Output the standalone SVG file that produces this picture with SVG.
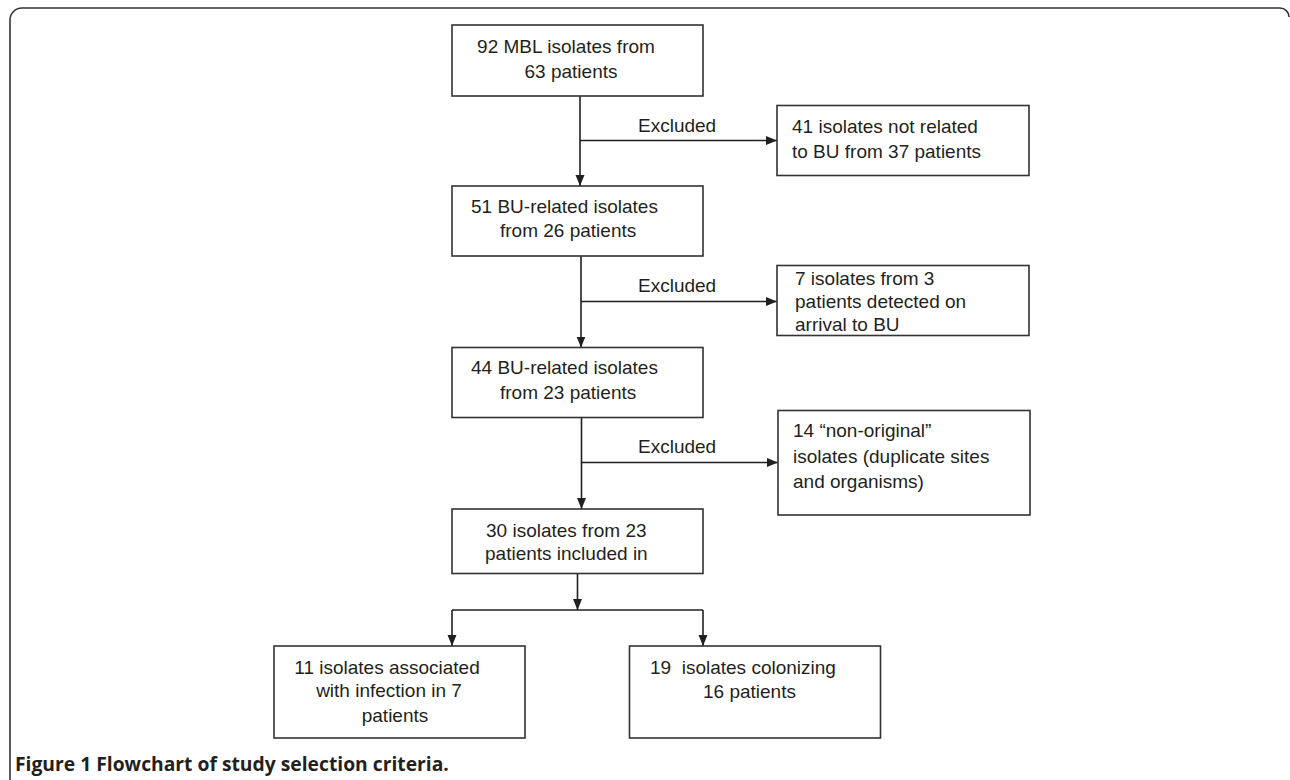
<svg xmlns="http://www.w3.org/2000/svg" width="1290" height="780" viewBox="0 0 1290 780">
<defs>
<marker id="ah" markerUnits="userSpaceOnUse" markerWidth="12" markerHeight="10" refX="11" refY="4.5" orient="auto">
<path d="M0,0 L11,4.5 L0,9 z" fill="#231f20"/>
</marker>
<style>
.box{fill:#fff;stroke:#333;stroke-width:1.6}
.t{font-family:"Liberation Sans",Arial,Helvetica,sans-serif;font-size:19px;fill:#231f20}
.c{text-anchor:middle}
.ln{fill:none;stroke:#231f20;stroke-width:1.6}
.cap{font-family:"Open Sans","Liberation Sans",sans-serif;font-size:19.3px;font-weight:700;fill:#231f20}
</style>
</defs>
<rect width="1290" height="780" fill="#fff"/>
<path d="M10,780 V20 A12,12 0 0 1 22,8 H1280 A9,9 0 0 1 1289,17" fill="none" stroke="#333" stroke-width="1.6"/>

<g id="connectors">
<path class="ln" d="M580,96 V186" marker-end="url(#ah)"/>
<path class="ln" d="M580,140.5 H777" marker-end="url(#ah)"/>
<path class="ln" d="M581,256 V347.5" marker-end="url(#ah)"/>
<path class="ln" d="M581,301.5 H777" marker-end="url(#ah)"/>
<path class="ln" d="M581.5,417.5 V509" marker-end="url(#ah)"/>
<path class="ln" d="M581.5,462.5 H778" marker-end="url(#ah)"/>
<path class="ln" d="M577.5,573.5 V610" marker-end="url(#ah)"/>
<path class="ln" d="M452,610 H703"/>
<path class="ln" d="M452,610 V646" marker-end="url(#ah)"/>
<path class="ln" d="M703,610 V646" marker-end="url(#ah)"/>
<text class="t" x="638" y="131.5">Excluded</text>
<text class="t" x="638" y="291.5">Excluded</text>
<text class="t" x="638" y="453">Excluded</text>
</g>

<g id="n1">
<rect class="box" x="452" y="25" width="251" height="71"/>
<text class="t c" x="566" y="53">92 MBL isolates from</text>
<text class="t c" x="571" y="78">63 patients</text>
</g>
<g id="n2">
<rect class="box" x="777" y="105.5" width="252" height="70"/>
<text class="t" x="792" y="133">41 isolates not related</text>
<text class="t" x="792" y="157.5">to BU from 37 patients</text>
</g>
<g id="n3">
<rect class="box" x="452" y="186" width="251" height="70"/>
<text class="t" x="471" y="213">51 BU-related isolates</text>
<text class="t" x="500" y="237">from 26 patients</text>
</g>
<g id="n4">
<rect class="box" x="777" y="265.5" width="252" height="70"/>
<text class="t" x="795" y="285">7 isolates from 3</text>
<text class="t" x="795" y="308">patients detected on</text>
<text class="t" x="795" y="330.5">arrival to BU</text>
</g>
<g id="n5">
<rect class="box" x="452" y="347.5" width="251" height="70"/>
<text class="t" x="471" y="374">44 BU-related isolates</text>
<text class="t" x="500" y="399">from 23 patients</text>
</g>
<g id="n6">
<rect class="box" x="778" y="410.5" width="252" height="104.5"/>
<text class="t" x="793" y="436.5">14 “non-original”</text>
<text class="t" x="793" y="462.5">isolates (duplicate sites</text>
<text class="t" x="793" y="487.5">and organisms)</text>
</g>
<g id="n7">
<rect class="box" x="452" y="509" width="251" height="64.5"/>
<text class="t" x="486" y="536.5">30 isolates from 23</text>
<text class="t" x="485" y="560">patients included in</text>
</g>
<g id="n8">
<rect class="box" x="274" y="646" width="251" height="92"/>
<text class="t c" x="387" y="674">11 isolates associated</text>
<text class="t c" x="389" y="697">with infection in 7</text>
<text class="t c" x="395" y="722">patients</text>
</g>
<g id="n9">
<rect class="box" x="629.5" y="646" width="251" height="92"/>
<text class="t" x="650" y="674" xml:space="preserve">19  isolates colonizing</text>
<text class="t" x="703" y="697.5">16 patients</text>
</g>
<text class="cap" x="15" y="771">Figure 1 Flowchart of study selection criteria.</text>
</svg>
